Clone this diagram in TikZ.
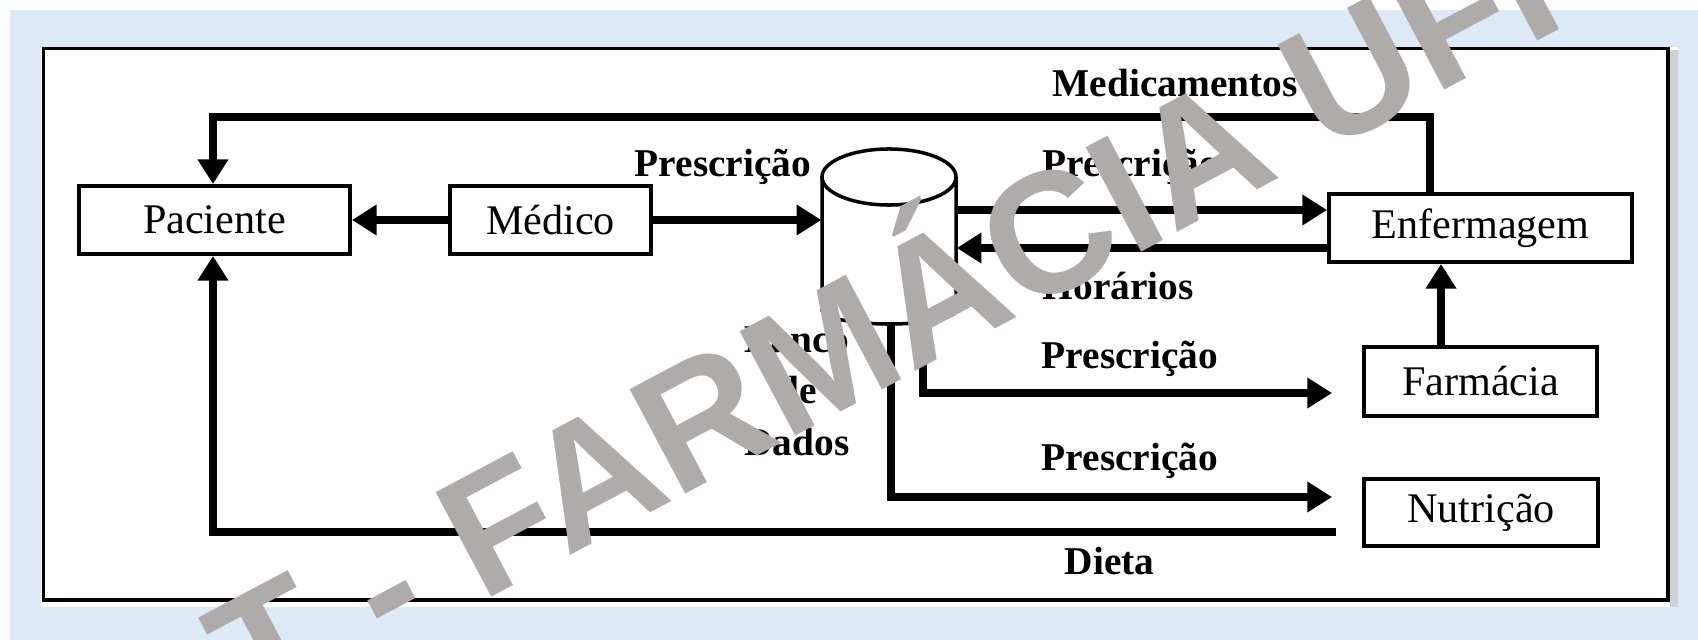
\documentclass[tikz,border=0pt]{standalone}
\usepackage{fontspec}
\setmainfont{Liberation Serif}
\newfontfamily\wmfont{Liberation Sans}
\usetikzlibrary{arrows.meta}
\definecolor{bgblue}{RGB}{221,233,245}
\definecolor{wmgray}{RGB}{174,171,170}
\begin{document}
\begin{tikzpicture}[x=0.01cm,y=-0.01cm,
  box/.style={draw=black, line width=1.1pt, fill=white, inner sep=0pt, font=\fontsize{12}{14}\selectfont},
  lbl/.style={anchor=base west, inner sep=0pt, font=\fontsize{11.2}{13}\selectfont\bfseries},
  arr/.style={line width=2.2pt, -{Triangle[length=7pt,width=8.3pt]}},
  cyl/.style={line width=1pt},
  wm/.style={inner sep=0pt, rotate=28, text=wmgray, font=\wmfont\bfseries\fontsize{48.9}{50}\selectfont}]
\useasboundingbox (0,0) rectangle (1698,640);
\clip (0,0) rectangle (1698,640);
% background and frame
\fill[white] (0,0) rectangle (1698,640);
\fill[bgblue] (10,10) rectangle (1698,640);
\fill[white] (41,47) rectangle (1678,607);
\fill[black!18] (1670,50) rectangle (1678,607);
\draw[line width=1pt] (43.5,48.5) rectangle (1668,600);
% boxes
\node[box, minimum width=2.71cm, minimum height=0.68cm] (Paciente) at (214.5,220) {Paciente};
\node[box, minimum width=2.01cm, minimum height=0.68cm] (Medico) at (550.5,220) {Médico};
\node[box, minimum width=3.03cm, minimum height=0.68cm] (Enfermagem) at (1480.5,228) {Enfermagem};
\node[box, minimum width=2.33cm, minimum height=0.69cm] (Farmacia) at (1480.5,381.5) {Farmácia};
\node[box, minimum width=2.34cm, minimum height=0.67cm] (Nutricao) at (1481,512.5) {Nutrição};
% database cylinder
\node[inner sep=0pt, minimum width=1.34cm, minimum height=1.33cm] (DB) at (889,243.5) {};
\draw[cyl, fill=white] (822,177) -- (822,310) arc[start angle=180, end angle=360, x radius=0.67cm, y radius=0.14cm] -- (956,177);
\draw[cyl, fill=white] (889,177) ellipse[x radius=0.67cm, y radius=0.28cm];
% connectors
\draw[arr] (Medico.west) -- (Paciente.east);
\draw[arr] (Medico.east) -- (Medico.east -| DB.west);
\draw[arr] (DB.east |- 0,210) -- (Enfermagem.west |- 0,210);
\draw[arr] (Enfermagem.west |- 0,248) -- (DB.east |- 0,248);
\draw[arr] (Farmacia.north -| 1441,0) -- (Enfermagem.south -| 1441,0);
\draw[arr] (Enfermagem.north -| 1430,0) -- (1430,117) -| (Paciente.north -| 213,0);
\coordinate (dietaIn) at (1336,532);
\draw[arr] (dietaIn) -| (Paciente.south -| 213,0);
\coordinate (dbF) at (923,321);
\coordinate (farmIn) at (1332,393);
\draw[arr] (dbF) |- (farmIn);
\coordinate (dbB) at (891,324);
\coordinate (nutIn) at (1332,497);
\draw[arr] (dbB) |- (nutIn);
% labels
\node[lbl] (lMed) at (1052,97) {Medicamentos};
\node[lbl] (lP1) at (634,177) {Prescrição};
\node[lbl] (lP2) at (1042,177) {Prescrição};
\node[lbl] (lHor) at (1042,300) {Horários};
\node[lbl] (lP3) at (1041,368) {Prescrição};
\node[lbl] (lP4) at (1041,470) {Prescrição};
\node[lbl] (lDieta) at (1064,574) {Dieta};
\node[lbl, anchor=base] (lB1) at (797,353) {Banco};
\node[lbl, anchor=base] (lB2) at (797,403) {de};
\node[lbl, anchor=base] (lB3) at (797,455) {Dados};
% watermark
\node[wm, anchor=base west] (wm1) at (481,603) {FARMÁCIA UFPI};
\node[wm, anchor=base east] (wm2) at (439,625) {HDT -};
\end{tikzpicture}
\end{document}
